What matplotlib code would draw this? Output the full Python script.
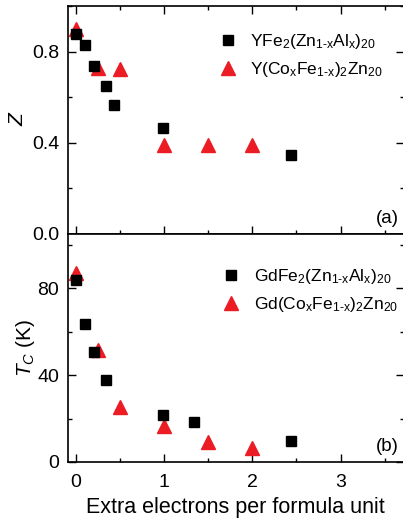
import matplotlib.pyplot as plt
from matplotlib.ticker import MultipleLocator

plt.rcParams["font.family"] = ["Liberation Sans", "DejaVu Sans"]
plt.rcParams["mathtext.fontset"] = "custom"
plt.rcParams["mathtext.rm"] = "Liberation Sans"
plt.rcParams["mathtext.it"] = "Liberation Sans:italic"
plt.rcParams["mathtext.default"] = "regular"

RED = "#ec1c24"

# panel (a): Z vs extra electrons
y_al_x = [0.0, 0.105, 0.205, 0.34, 0.425, 0.985, 2.44]
y_al_z = [0.878, 0.828, 0.735, 0.647, 0.564, 0.466, 0.345]
y_co_x = [0.0, 0.25, 0.5, 1.0, 1.5, 2.0]
y_co_z = [0.897, 0.728, 0.724, 0.389, 0.389, 0.389]

# panel (b): Tc vs extra electrons
gd_al_x = [0.0, 0.105, 0.205, 0.34, 0.985, 1.34, 2.44]
gd_al_tc = [83.7, 63.7, 50.6, 37.7, 21.8, 18.6, 9.7]
gd_co_x = [0.0, 0.25, 0.5, 1.0, 1.5, 2.0]
gd_co_tc = [87.0, 51.7, 25.5, 16.6, 9.2, 6.3]

labels_a = [r"YFe$_2$(Zn$_{1\text{-}x}$Al$_x$)$_{20}$",
            r"Y(Co$_x$Fe$_{1\text{-}x}$)$_2$Zn$_{20}$"]
labels_b = [r"GdFe$_2$(Zn$_{1\text{-}x}$Al$_x$)$_{20}$",
            r"Gd(Co$_x$Fe$_{1\text{-}x}$)$_2$Zn$_{20}$"]

fig = plt.figure(figsize=(4.03, 5.21), dpi=100)
ax_a = fig.add_axes([0.1675, 0.5509, 0.835, 0.4376])
ax_b = fig.add_axes([0.1675, 0.1133, 0.835, 0.4376], sharex=ax_a)


def style(ax, top=True):
    ax.tick_params(which="both", direction="in", top=top, right=True,
                   labelsize=14, width=1)
    ax.tick_params(which="major", length=6)
    ax.tick_params(which="minor", length=3)
    ax.tick_params(axis="y", which="major", pad=6)
    ax.tick_params(axis="x", which="major", pad=9)
    ax.xaxis.set_major_locator(MultipleLocator(1))
    ax.xaxis.set_minor_locator(MultipleLocator(0.5))
    for s in ax.spines.values():
        s.set_linewidth(1.2)


leg_kw = dict(loc="upper left", frameon=False, fontsize=12.5,
              handlelength=1.0, handletextpad=0.8, labelspacing=0.5,
              borderaxespad=0)

ax_a.plot(y_al_x, y_al_z, "s", color="black", ms=7.5, zorder=3,
          label=labels_a[0])
ax_a.plot(y_co_x, y_co_z, "^", color=RED, ms=9.5, zorder=2,
          label=labels_a[1])
ax_a.set_xlim(-0.097, 3.72)
ax_a.set_ylim(0, 1.0)
ax_a.yaxis.set_major_locator(MultipleLocator(0.4))
ax_a.yaxis.set_minor_locator(MultipleLocator(0.2))
ax_a.set_ylabel("Z", fontsize=15, fontstyle="italic", labelpad=3)
style(ax_a)
ax_a.tick_params(labelbottom=False)
ax_a.text(0.985, 0.03, "(a)", transform=ax_a.transAxes, ha="right",
          va="bottom", fontsize=13.5)
ax_a.legend(bbox_to_anchor=(0.43, 0.915), **leg_kw)

ax_b.plot(gd_al_x, gd_al_tc, "s", color="black", ms=7.5, zorder=3,
          label=labels_b[0])
ax_b.plot(gd_co_x, gd_co_tc, "^", color=RED, ms=9.5, zorder=2,
          label=labels_b[1])
ax_b.set_ylim(0, 105)
ax_b.yaxis.set_major_locator(MultipleLocator(40))
ax_b.yaxis.set_minor_locator(MultipleLocator(20))
ax_b.set_ylabel(r"$\mathit{T_C}$ (K)", fontsize=15, labelpad=0)
ax_b.set_xlabel("Extra electrons per formula unit", fontsize=15.5,
                labelpad=4)
style(ax_b, top=False)
ax_b.text(0.985, 0.03, "(b)", transform=ax_b.transAxes, ha="right",
          va="bottom", fontsize=13.5)
ax_b.legend(bbox_to_anchor=(0.44, 0.885), **leg_kw)

fig.savefig("out.png", dpi=100)
